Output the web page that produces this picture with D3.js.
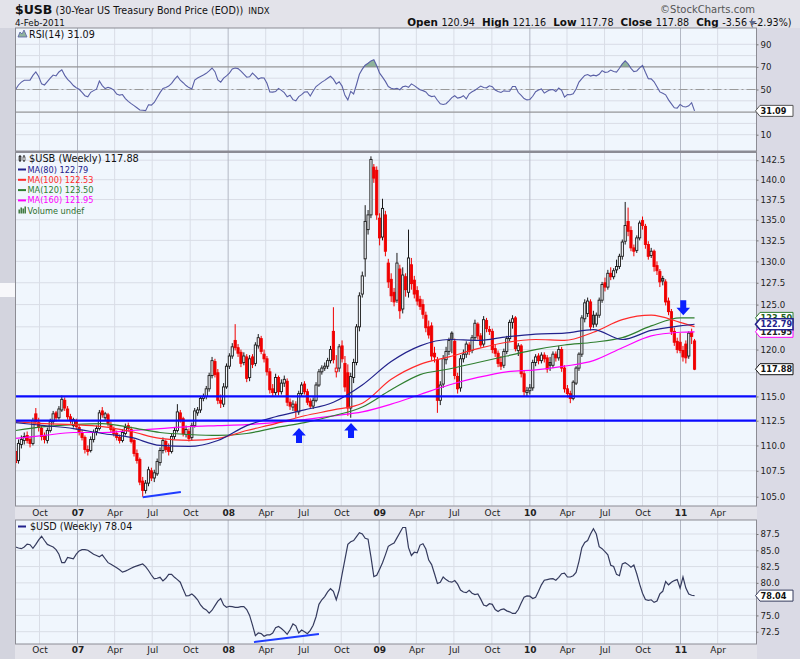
<!DOCTYPE html>
<html>
<head>
<meta charset="utf-8">
<script src="https://cdn.jsdelivr.net/npm/d3@7"></script>
<style>
  body { margin: 0; background: #e2e2ea; }
  #container { width: 800px; height: 659px; }
  text { font-family: "DejaVu Sans", Verdana, sans-serif; }
</style>
</head>
<body>
<div id="container"></div>
<script>
// weekly bars of $USB, first week ends 4-Aug-2006, last 4-Feb-2011
const opens = [
  109.4,108.5,110.1,110.5,111.0,110.6,110.2,113.2,112.3,111.7,111.0,110.5,111.5,112.4,113.3,112.8,113.6,114.6,113.7,112.9,
  112.0,112.5,111.8,111.3,110.8,109.6,109.5,110.6,111.4,111.7,113.5,112.8,113.1,112.1,111.6,111.2,110.8,110.5,111.2,112.0,
  111.6,110.5,109.2,108.6,106.5,105.6,106.3,107.5,106.8,107.2,108.3,109.5,110.4,109.8,109.4,110.9,111.5,113.3,112.7,111.1,
  111.4,110.8,112.0,113.3,113.6,114.8,115.0,115.8,117.2,118.7,117.5,114.6,114.2,116.0,118.2,119.3,121.0,120.2,119.7,118.6,
  119.2,117.0,119.2,118.5,120.4,121.2,119.5,119.0,117.6,115.8,115.4,117.0,115.5,116.4,116.6,114.4,113.9,114.2,113.4,115.3,
  116.3,115.5,114.5,114.0,114.6,116.2,117.6,118.0,118.2,118.8,122.0,117.6,118.0,120.4,118.5,117.5,113.8,117.0,118.6,122.5,
  126.2,130.3,133.8,135.6,141.6,141.2,135.2,132.9,135.6,129.8,127.9,126.4,125.5,129.1,124.5,128.2,126.4,129.6,127.8,126.6,
  125.6,125.0,123.8,122.5,122.6,119.6,118.9,114.6,116.3,118.9,119.8,121.8,120.9,117.1,115.9,119.0,119.5,120.5,119.9,121.3,
  122.8,121.5,120.6,123.2,122.2,122.0,120.1,119.6,118.6,118.3,119.8,121.2,123.0,123.5,119.9,120.4,117.4,115.4,115.6,115.9,
  118.6,119.3,118.8,119.4,119.1,118.6,118.3,119.5,119.1,120.0,118.0,115.8,115.3,114.8,116.4,118.0,119.5,123.4,124.0,125.3,
  123.8,122.8,123.8,125.5,127.5,127.0,128.6,128.2,129.0,129.4,130.6,132.4,134.8,133.7,131.6,131.3,132.8,134.9,134.2,132.0,
  130.7,131.2,129.5,128.8,128.0,127.6,125.4,124.2,122.0,120.9,120.8,119.9,120.6,119.3,121.9,120.94
];
const highs = [
  109.8,110.6,111.0,111.3,111.4,110.9,112.8,113.8,112.8,112.0,111.3,111.8,112.7,113.5,113.5,114.0,115.1,114.9,114.0,113.2,
  112.8,112.7,112.1,111.6,111.0,110.0,110.9,111.6,112.0,113.6,113.9,113.4,113.3,112.4,111.9,111.5,111.1,111.6,112.2,112.3,
  111.9,110.7,109.6,108.8,106.9,106.6,107.9,107.8,107.6,108.7,109.8,110.8,110.6,110.2,111.2,111.8,114.2,113.6,112.9,112.0,
  111.7,112.3,113.8,113.9,115.0,115.3,116.1,117.5,119.2,119.0,117.9,115.2,116.4,118.5,119.6,120.7,122.8,120.6,120.0,119.7,
  119.5,119.4,119.5,120.8,121.7,121.5,120.0,119.3,118.0,116.3,117.4,117.2,116.8,117.2,116.9,114.8,114.6,114.5,115.6,116.5,
  116.6,115.8,114.8,114.9,116.5,117.9,118.3,118.6,119.1,120.4,124.7,119.4,120.6,121.0,119.3,118.4,117.5,119.0,122.8,126.4,
  128.8,136.8,136.2,143.0,142.0,141.7,135.8,137.6,136.1,130.3,128.6,126.9,131.0,129.6,129.3,128.6,133.8,130.4,128.3,127.1,
  126.0,125.6,124.2,123.2,123.0,120.3,119.2,116.6,119.4,120.3,121.3,122.0,121.2,117.5,119.4,120.0,120.9,120.8,121.6,123.3,
  123.0,121.8,123.7,123.5,122.6,122.3,120.6,119.9,119.3,120.1,121.5,123.3,123.8,123.7,120.7,120.6,117.7,116.0,116.3,118.9,
  119.5,119.6,119.7,119.7,119.4,119.2,119.8,119.8,120.4,120.3,118.3,116.2,115.6,116.7,118.2,119.7,123.8,125.6,125.8,125.6,
  124.3,124.1,125.8,127.6,128.1,129.0,129.3,129.2,130.2,130.9,132.6,137.2,136.5,134.2,132.0,133.1,134.9,135.4,134.5,132.4,
  131.6,131.4,130.0,129.1,128.3,127.9,125.8,124.5,122.4,121.3,121.8,120.4,121.0,122.0,122.3,121.16
];
const lows = [
  107.8,108.2,109.7,110.1,110.2,109.8,110.0,112.1,111.4,110.5,110.2,110.2,111.3,112.1,112.4,112.6,113.4,113.5,112.6,112.2,
  111.8,111.6,111.0,110.5,109.2,109.0,109.3,110.3,111.0,111.5,112.8,112.5,111.9,111.3,110.9,110.5,110.2,110.3,111.0,111.4,
  110.2,108.9,108.2,106.1,105.0,105.3,106.0,106.5,106.4,107.0,108.0,109.2,109.3,109.0,109.2,110.6,111.3,112.3,110.9,110.8,
  110.4,110.5,111.8,113.0,113.3,114.5,114.7,115.5,116.9,117.0,114.2,113.8,113.9,115.8,117.9,119.0,119.9,119.2,118.1,118.3,
  116.5,116.6,118.0,118.2,120.1,119.5,118.6,117.2,115.3,115.0,115.1,115.1,115.2,116.0,114.0,113.6,113.5,112.8,113.1,115.0,
  115.2,114.1,113.7,113.7,114.4,116.0,117.3,117.7,117.9,118.5,118.5,117.0,117.6,118.6,115.5,113.0,112.8,116.4,118.3,122.0,
  125.8,128.2,133.2,135.2,139.6,135.0,131.9,132.5,130.6,126.9,125.3,124.8,125.2,123.4,124.0,125.9,125.8,126.7,125.7,124.9,
  124.4,123.4,121.9,121.2,118.8,118.6,113.3,114.1,115.9,118.4,119.4,119.6,116.8,115.3,115.5,118.6,119.1,119.4,119.6,121.0,
  121.1,120.2,120.3,121.9,121.6,119.6,119.2,118.1,117.8,118.0,119.5,120.9,122.3,119.8,119.3,117.0,115.0,115.0,115.2,115.6,
  118.2,118.4,118.5,118.6,117.5,117.7,118.0,118.7,118.8,117.6,115.4,114.9,114.3,114.6,116.2,117.7,119.2,123.0,123.6,122.1,
  122.4,122.5,123.5,125.2,126.5,126.7,127.8,127.9,128.6,129.1,130.2,132.0,133.0,131.2,130.6,131.0,132.5,133.8,131.5,130.2,
  130.4,128.8,128.4,127.0,127.2,124.9,123.8,121.6,120.4,119.6,119.6,118.7,118.5,119.0,120.6,117.78
];
const closes = [
  108.3,110.2,110.6,110.9,110.5,110.2,112.5,112.4,111.8,110.9,110.6,111.5,112.4,113.2,112.8,113.7,114.7,113.8,112.9,112.5,
  112.6,111.9,111.4,110.8,109.6,109.4,110.6,111.3,111.7,113.3,113.1,113.2,112.2,111.6,111.2,110.8,110.5,111.3,111.8,111.7,
  110.4,109.2,108.5,106.4,105.6,106.3,107.6,106.8,107.3,108.4,109.5,110.5,109.6,109.4,110.9,111.5,113.4,112.6,111.2,111.6,
  110.7,112.0,113.5,113.6,114.8,115.0,115.8,117.2,118.8,117.3,114.6,114.3,116.0,118.2,119.3,120.3,120.2,119.6,118.5,119.3,
  116.9,119.0,118.4,120.5,121.3,119.8,119.0,117.6,115.7,115.4,117.0,115.5,116.4,116.8,114.4,114.0,114.2,113.5,115.3,116.2,
  115.5,114.4,114.0,114.6,116.2,117.6,118.0,118.2,118.8,120.0,118.9,118.0,120.3,119.0,116.0,113.8,117.1,118.6,122.5,126.0,
  128.3,134.8,135.6,142.6,140.2,135.6,132.8,136.4,131.2,127.6,126.0,125.3,129.8,124.3,128.4,126.7,130.4,127.4,126.2,125.4,
  124.8,123.9,122.4,121.6,119.3,119.2,114.6,116.2,119.0,119.8,121.0,121.1,117.2,115.8,119.0,119.5,120.6,119.8,121.3,122.9,
  121.5,120.5,123.3,122.3,122.0,120.0,119.6,118.5,118.2,119.8,121.2,123.0,123.4,120.1,120.4,117.4,115.5,115.6,115.9,118.6,
  119.2,118.8,119.4,119.0,117.9,118.3,119.5,119.1,120.0,118.0,115.8,115.3,114.8,116.5,118.0,119.5,123.5,125.2,125.4,122.5,
  122.8,123.8,125.5,127.3,127.0,128.6,128.2,128.9,129.4,130.6,132.3,134.3,133.6,131.6,131.2,132.8,134.6,134.3,132.0,130.6,
  131.2,129.4,128.9,127.6,127.7,125.3,124.2,122.0,120.8,120.0,119.9,119.2,119.1,121.8,121.44,117.88
];

// RSI(14), one value per week
const rsiValues = [
  50.0,54.0,56.5,58.2,58.2,58.3,62.5,65.5,61.5,55.0,54.0,57.0,60.0,62.8,62.0,65.5,67.5,62.5,59.0,56.5,
  53.5,51.5,50.2,47.5,44.5,43.5,47.5,49.0,50.3,57.5,53.5,50.8,52.0,51.0,49.5,46.0,45.0,45.5,42.0,39.5,
  37.5,35.7,33.8,31.9,31.6,31.3,36.5,36.2,38.5,43.0,47.2,51.0,51.8,53.0,55.5,59.0,61.8,58.2,56.0,53.5,
  51.7,50.5,58.3,60.2,61.5,62.8,64.3,66.5,69.0,65.8,58.5,56.5,60.1,62.0,64.5,68.1,69.0,68.5,66.3,63.5,
  60.9,61.2,64.5,62.0,59.3,60.3,60.2,55.5,47.8,47.7,48.2,51.0,49.2,47.2,43.6,45.0,41.0,40.0,43.7,45.5,
  47.8,48.0,44.2,48.7,52.6,54.5,56.5,58.1,60.0,61.7,59.2,55.0,56.9,53.0,44.8,40.8,48.3,46.0,54.4,63.5,
  68.0,71.5,73.2,75.3,76.3,71.0,64.5,61.0,57.2,52.6,51.1,50.4,51.0,49.8,52.4,53.0,52.0,55.0,53.4,51.5,
  49.8,49.0,47.8,44.9,43.7,44.2,40.5,37.3,36.7,37.4,40.0,42.8,44.5,42.4,43.0,44.5,41.8,46.2,48.0,49.3,
  51.2,53.0,51.8,51.5,53.3,52.5,49.5,48.2,47.4,48.8,48.5,48.4,52.6,52.7,47.3,44.7,42.0,40.8,41.2,44.0,
  48.0,49.5,50.5,46.8,48.4,49.7,50.0,48.2,51.3,49.2,43.3,45.6,45.3,46.2,50.5,56.5,59.6,62.5,63.3,61.9,
  62.7,62.1,63.5,66.7,65.2,65.5,67.2,66.0,65.4,68.8,72.7,75.4,72.8,68.7,65.9,66.4,69.1,71.3,65.2,59.5,
  59.4,56.8,52.5,47.9,46.7,45.3,40.8,37.3,33.8,33.5,36.8,34.9,34.5,35.5,38.3,31.09
];

// $USD weekly close
const usdValues = [
  85.5,85.35,85.25,85.5,85.95,85.85,85.3,85.9,86.6,87.15,86.5,85.9,85.7,85.5,85.1,84.4,83.1,83.1,83.9,83.8,
  83.7,84.4,84.9,85.1,85.1,85.0,84.7,84.4,84.2,84.0,84.3,83.7,83.1,82.85,82.6,82.3,82.0,81.65,81.8,82.0,
  82.25,82.45,82.6,82.75,82.9,82.5,81.9,81.2,80.6,80.7,80.85,80.3,80.7,81.3,81.3,80.85,80.5,80.1,79.0,78.0,
  78.05,78.3,77.9,77.4,76.6,76.1,75.85,75.35,75.8,76.5,77.2,77.6,76.6,76.25,76.4,76.35,76.25,76.25,76.35,76.35,
  75.9,75.0,73.5,71.9,72.3,72.2,71.8,72.0,72.0,72.3,73.1,73.3,73.0,72.6,72.1,72.8,73.7,73.4,72.3,72.75,
  72.5,72.2,72.7,73.5,74.8,76.7,77.4,77.9,78.6,79.1,78.7,77.4,78.9,81.3,83.6,85.9,86.3,86.5,87.1,87.7,
  87.5,86.85,86.7,84.0,80.95,81.15,82.1,83.1,84.3,85.6,85.9,86.1,86.9,87.7,88.5,88.5,85.4,84.2,84.7,84.6,
  85.8,86.0,85.2,83.5,82.8,81.4,79.9,80.1,80.9,80.5,80.2,80.1,80.35,79.8,78.9,78.6,78.5,78.85,78.4,78.2,
  78.3,77.5,76.6,76.45,76.8,76.7,75.9,75.6,75.9,76.0,75.7,75.55,75.3,75.3,75.9,76.9,77.8,78.0,77.95,77.6,
  77.8,78.7,79.7,80.4,80.5,80.6,80.65,80.4,80.85,81.4,81.5,80.9,80.9,81.1,81.6,83.3,85.4,86.2,86.5,87.5,
  88.3,87.5,85.55,85.25,84.8,84.3,82.7,82.5,81.3,81.1,82.9,83.1,82.8,82.4,82.75,81.4,79.8,78.4,77.45,77.3,
  77.4,77.0,77.2,78.3,78.7,80.2,79.7,80.1,80.35,80.5,79.2,80.9,79.2,78.3,78.1,78.04
];

// moving averages read at these week numbers
const maWeeks = [0,10,20,30,40,50,60,70,80,90,100,110,120,130,140,150,160,170,180,190,200,210,220,230,235];
const ma80 = [112.3,112.0,111.7,111.2,110.8,110.0,109.9,110.5,112.0,112.9,113.6,114.4,116.2,118.7,120.4,121.1,121.0,121.4,121.7,121.8,122.2,121.1,122.1,122.6,122.79];
const ma100 = [112.4,112.2,112.1,111.9,111.4,110.7,110.5,110.7,111.5,112.2,113.0,113.6,114.3,116.8,118.4,119.2,120.1,120.8,121.1,121.0,121.9,123.3,123.8,123.0,122.53];
const ma120 = [111.5,111.9,112.1,112.2,111.8,111.3,111.1,111.0,111.2,111.8,112.3,113.0,113.9,115.7,117.3,117.9,118.6,119.3,120.0,120.5,120.8,121.3,122.6,123.5,123.50];
const ma160 = [110.7,111.0,111.3,111.3,111.5,111.7,111.9,112.0,112.1,112.3,112.6,113.0,113.4,114.2,115.2,116.2,117.0,117.6,117.8,118.2,118.8,120.2,121.5,121.9,121.95];

const priceTicks = [105,107.5,110,112.5,115,117.5,120,122.5,125,127.5,130,132.5,135,137.5,140,142.5];
const rsiTicks = [10,30,50,70,90];
const rsiGrid = [10,20,30,40,50,60,70,80,90];
const usdTicks = [72.5,75,77.5,80,82.5,85,87.5];
const supportLevels = [115, 112.5];

// annotations, [week, value]
const trendPrice = [[44, 104.95], [57.2, 105.45]];
const trendUsd = [[82.5, 70.9], [105, 72.15]];
const upArrows = [[98.1, 111.75], [116.1, 112.27]];
const downArrows = [[231.1, 123.8]];

const headerStats = [["Open","120.94"],["High","121.16"],["Low","117.78"],["Close","117.88"],["Chg","-3.56 (-2.93%)"]];

const W = 800, H = 659;
const panelLeft = 15.5, panelRight = 756.5;
const rsiTop = 28, rsiBottom = 151;
const mainTop = 152, mainBottom = 506;
const usdTop = 520, usdBottom = 644;
const gridColor = "#d9dde6", yearColor = "#b3b8c4";
const mono = "'DejaVu Sans Mono', monospace";

const firstWeek = new Date(2006, 7, 4);
const weekDate = i => new Date(firstWeek.getTime() + i * 7 * 864e5);

let x = d3.scaleTime()
  .domain([new Date(2007, 0, 1), new Date(2011, 0, 1)])
  .range([77.5, 680.5]);
let yPrice = d3.scaleLog().domain([105, 142.5]).range([496.7, 160.2]);
let yRsi = d3.scaleLinear().domain([10, 90]).range([134.7, 44.3]);
let yUsd = d3.scaleLinear().domain([72.5, 87.5]).range([631.7, 534]);

let quarters = d3.timeMonth.every(3).range(new Date(2006, 9, 1), new Date(2011, 4, 1));

const svg = d3.select("#container")
  .append("svg")
  .attr("width", W)
  .attr("height", H);

// backdrop
svg.append("rect").attr("width", W).attr("height", H).attr("fill", "#e3e3ea");
svg.append("rect").attr("x", 757).attr("y", 28).attr("width", 43).attr("height", 631).attr("fill", "#dadae5");
svg.append("rect").attr("x", 0).attr("y", 28).attr("width", 15).attr("height", 631).attr("fill", "#d3d4de");
svg.append("rect").attr("x", 0).attr("y", 283).attr("width", 15).attr("height", 14).attr("fill", "#f7f7fa");

let makePanel = (top, bottom, yScale, grid, id) => {
  let g = svg.append("g");
  g.append("rect")
    .attr("x", panelLeft).attr("y", top)
    .attr("width", panelRight - panelLeft).attr("height", bottom - top)
    .attr("fill", "#f0f6fd");
  g.selectAll(".hgrid").data(grid).enter().append("line")
    .attr("x1", panelLeft).attr("x2", panelRight)
    .attr("y1", d => yScale(d)).attr("y2", d => yScale(d))
    .attr("stroke", gridColor).attr("stroke-width", 1);
  g.selectAll(".vgrid").data(quarters).enter().append("line")
    .attr("x1", d => x(d)).attr("x2", d => x(d))
    .attr("y1", top).attr("y2", bottom)
    .attr("stroke", d => d.getMonth() === 0 ? yearColor : gridColor)
    .attr("stroke-width", 1);
  svg.append("clipPath").attr("id", id)
    .append("rect")
    .attr("x", panelLeft).attr("y", top)
    .attr("width", panelRight - panelLeft).attr("height", bottom - top);
  return g;
}

let drawBorder = (top, bottom) => {
  svg.append("rect")
    .attr("x", panelLeft).attr("y", top)
    .attr("width", panelRight - panelLeft).attr("height", bottom - top)
    .attr("fill", "none").attr("stroke", "#8c8c94").attr("stroke-width", 1);
}

// labels sitting under a value tag are hidden, as on the original
let rightAxis = (yScale, ticks, fmt, tagYs) => {
  let shown = ticks.filter(t => tagYs.every(ty => Math.abs(yScale(t) - ty) > 7));
  let g = svg.append("g")
    .attr("transform", `translate(${panelRight},0)`)
    .call(d3.axisRight(yScale).tickValues(shown).tickSize(2).tickPadding(2).tickFormat(fmt));
  g.select(".domain").remove();
  g.selectAll("line").attr("stroke", "#777");
  g.selectAll("text").attr("font-size", 8.6).attr("fill", "#222")
    .attr("font-family", "'DejaVu Sans', Verdana, sans-serif");
}

let dateAxis = (yPos) => {
  let g = svg.append("g")
    .attr("transform", `translate(0,${yPos})`)
    .call(d3.axisBottom(x).tickValues(quarters).tickSize(0).tickPadding(0)
      .tickFormat(d => d.getMonth() === 0 ? d3.timeFormat("%y")(d) : d3.timeFormat("%b")(d)));
  g.select(".domain").remove();
  g.selectAll("text")
    .attr("font-size", 9)
    .attr("fill", "#222")
    .attr("font-weight", d => d.getMonth() === 0 ? "bold" : "normal")
    .attr("font-family", "'DejaVu Sans', Verdana, sans-serif");
}

let valueTag = (yPos, label, color, textColor, sw) => {
  let g = svg.append("g").attr("transform", `translate(755.5,${yPos})`);
  g.append("path")
    .attr("d", "M0,0 L4.5,-5.5 L37.5,-5.5 L37.5,5.5 L4.5,5.5 Z")
    .attr("fill", "#fff").attr("stroke", color).attr("stroke-width", sw);
  g.append("text")
    .attr("x", 5).attr("y", 3.2)
    .attr("font-size", 8.2).attr("font-weight", "bold")
    .attr("fill", textColor)
    .text(label);
}

// ---------- header ----------
let title = svg.append("text").attr("x", 15).attr("y", 14).attr("fill", "#111");
title.append("tspan").attr("font-size", 12.5).attr("font-weight", "bold").text("$USB");
title.append("tspan").attr("dx", 3).attr("font-size", 9.6).text("(30-Year US Treasury Bond Price (EOD))");
title.append("tspan").attr("dx", 5).attr("font-size", 8.5).text("INDX");

svg.append("text").attr("x", 15).attr("y", 25.5).attr("font-size", 8.8).attr("fill", "#111").text("4-Feb-2011");

svg.append("text").attr("x", 755).attr("y", 12.5).attr("text-anchor", "end")
  .attr("font-size", 10).attr("fill", "#555").text("\u00A9StockCharts.com");

let stats = svg.append("text").attr("y", 25.5).attr("fill", "#111");
headerStats.forEach((s, k) => {
  stats.append("tspan").attr("dx", k === 0 ? 0 : 7).attr("font-size", 10.4).attr("font-weight", "bold").text(s[0]);
  stats.append("tspan").attr("dx", 3.5).attr("font-size", 9.6).text(s[1]);
});
let statsWidth = stats.node().getComputedTextLength();
stats.attr("x", 746 - statsWidth);
svg.append("path").attr("d", "M749,21 L756,21 L752.5,25.5 Z").attr("fill", "#5b6b92");

// ---------- RSI panel ----------
makePanel(rsiTop, rsiBottom, yRsi, rsiGrid, "clip-rsi");
let rsiG = svg.append("g").attr("clip-path", "url(#clip-rsi)");
rsiG.append("path")
  .datum(rsiValues)
  .attr("d", d3.area()
    .x((d, i) => x(weekDate(i)))
    .y0(yRsi(70))
    .y1(d => yRsi(Math.max(d, 70))))
  .attr("fill", "#8fb39c");
rsiG.append("path")
  .datum(rsiValues)
  .attr("d", d3.area()
    .x((d, i) => x(weekDate(i)))
    .y0(yRsi(30))
    .y1(d => yRsi(Math.min(d, 30))))
  .attr("fill", "#8fb39c");
[30, 70].forEach(v => {
  rsiG.append("line").attr("x1", panelLeft).attr("x2", panelRight)
    .attr("y1", yRsi(v)).attr("y2", yRsi(v)).attr("stroke", "#8a8a8a").attr("stroke-width", 1);
});
rsiG.append("line").attr("x1", panelLeft).attr("x2", panelRight)
  .attr("y1", yRsi(50)).attr("y2", yRsi(50))
  .attr("stroke", "#9a9a9a").attr("stroke-width", 1).attr("stroke-dasharray", "9,3,2,3");
rsiG.append("path")
  .datum(rsiValues)
  .attr("d", d3.line().x((d, i) => x(weekDate(i))).y(d => yRsi(d)))
  .attr("fill", "none").attr("stroke", "#5a60a6").attr("stroke-width", 1.1);
drawBorder(rsiTop, rsiBottom);
let rsiLast = rsiValues[rsiValues.length - 1];
rightAxis(yRsi, rsiTicks, d3.format("d"), [yRsi(rsiLast)]);
valueTag(yRsi(rsiLast), rsiLast.toFixed(2), "#555", "#111", 1);

// legend
svg.append("path").attr("d", "M18,37 L20,32 L22,34 L24,30 L27,37 Z").attr("fill", "#8fb39c").attr("stroke", "#5a60a6").attr("stroke-width", 0.8);
svg.append("text").attr("x", 29).attr("y", 37.5).attr("font-family", mono).attr("font-size", 9.6).attr("fill", "#111").text("RSI(14) " + rsiLast.toFixed(2));

// ---------- price panel ----------
makePanel(mainTop, mainBottom, yPrice, priceTicks, "clip-main");
let mainG = svg.append("g").attr("clip-path", "url(#clip-main)");

let bars = closes.map((c, i) => ({
  date: weekDate(i),
  open: opens[i],
  close: c,
  high: Math.max(highs[i], opens[i], c),
  low: Math.min(lows[i], opens[i], c),
  up: i === 0 ? c >= opens[i] : c >= closes[i - 1]
}));

let lineColor = d => d.up ? "#1a1a1a" : "#f00000";
mainG.selectAll(".wick").data(bars).enter().append("line")
  .attr("x1", d => x(d.date)).attr("x2", d => x(d.date))
  .attr("y1", d => yPrice(d.high)).attr("y2", d => yPrice(d.low))
  .attr("stroke", lineColor).attr("stroke-width", 1);
mainG.selectAll(".body").data(bars).enter().append("rect")
  .attr("x", d => x(d.date) - 1.1)
  .attr("width", 2.2)
  .attr("y", d => yPrice(Math.max(d.open, d.close)))
  .attr("height", d => Math.max(0.8, yPrice(Math.min(d.open, d.close)) - yPrice(Math.max(d.open, d.close))))
  .attr("fill", d => d.close >= d.open ? "#f4f8fd" : (d.up ? "#7a7a7a" : "#f00000"))
  .attr("stroke", lineColor)
  .attr("stroke-width", 0.9);

let maLine = d3.line()
  .x((d, k) => x(weekDate(maWeeks[k])))
  .y(d => yPrice(d))
  .curve(d3.curveMonotoneX);
[[ma160, "#ff00ff"], [ma120, "#2f7f2f"], [ma100, "#ff2a2a"], [ma80, "#22228c"]].forEach(m => {
  mainG.append("path").datum(m[0]).attr("d", maLine)
    .attr("fill", "none").attr("stroke", m[1]).attr("stroke-width", 1.2);
});

mainG.selectAll(".support").data(supportLevels).enter().append("line")
  .attr("x1", panelLeft).attr("x2", panelRight)
  .attr("y1", d => yPrice(d)).attr("y2", d => yPrice(d))
  .attr("stroke", "#0a0aff").attr("stroke-width", 2.2);

mainG.append("path").datum(trendPrice)
  .attr("d", d3.line().x(d => x(weekDate(d[0]))).y(d => yPrice(d[1])))
  .attr("stroke", "#1f3cff").attr("stroke-width", 2).attr("fill", "none");

mainG.selectAll(".uparrow").data(upArrows).enter().append("path")
  .attr("transform", d => `translate(${x(weekDate(d[0]))},${yPrice(d[1])})`)
  .attr("d", "M0,0 L6.8,7.5 L3,7.5 L3,15 L-3,15 L-3,7.5 L-6.8,7.5 Z")
  .attr("fill", "#0a1fff");
mainG.selectAll(".downarrow").data(downArrows).enter().append("path")
  .attr("transform", d => `translate(${x(weekDate(d[0]))},${yPrice(d[1])})`)
  .attr("d", "M0,0 L6.8,-7.5 L3,-7.5 L3,-15 L-3,-15 L-3,-7.5 L-6.8,-7.5 Z")
  .attr("fill", "#0a1fff");

drawBorder(mainTop, mainBottom);
svg.append("line").attr("x1", panelLeft).attr("x2", panelRight).attr("y1", mainTop).attr("y2", mainTop)
  .attr("stroke", "#8c8c94").attr("stroke-width", 2);

let last = closes.length - 1;
let lastMa = [ma120, ma160, ma80].map(m => m[m.length - 1]);
rightAxis(yPrice, priceTicks, d3.format(".1f"), lastMa.concat([closes[last]]).map(v => yPrice(v)));
valueTag(yPrice(lastMa[0]), lastMa[0].toFixed(2), "#2f7f2f", "#1f5f1f", 1);
valueTag(yPrice(lastMa[1]), lastMa[1].toFixed(2), "#ff00ff", "#222", 1);
valueTag(yPrice(lastMa[2]), lastMa[2].toFixed(2), "#22228c", "#22228c", 1.6);
valueTag(yPrice(closes[last]), closes[last].toFixed(2), "#111", "#111", 1);

// legend
let legendRows = [
  ["MA(80) " + ma80[ma80.length - 1].toFixed(2), "#22228c"],
  ["MA(100) " + ma100[ma100.length - 1].toFixed(2), "#ff2a2a"],
  ["MA(120) " + ma120[ma120.length - 1].toFixed(2), "#2f7f2f"],
  ["MA(160) " + ma160[ma160.length - 1].toFixed(2), "#ff00ff"]
];
svg.append("line").attr("x1", 20).attr("x2", 20).attr("y1", 155).attr("y2", 162).attr("stroke", "#111");
svg.append("rect").attr("x", 19).attr("y", 156.5).attr("width", 2).attr("height", 4).attr("fill", "#777").attr("stroke", "#111").attr("stroke-width", 0.6);
svg.append("line").attr("x1", 24).attr("x2", 24).attr("y1", 155).attr("y2", 162).attr("stroke", "#111");
svg.append("rect").attr("x", 23).attr("y", 157).attr("width", 2).attr("height", 3.5).attr("fill", "#fff").attr("stroke", "#111").attr("stroke-width", 0.6);
svg.append("text").attr("x", 29).attr("y", 162).attr("font-family", mono).attr("font-size", 9.8)
  .attr("fill", "#111").text("$USB (Weekly) " + closes[last].toFixed(2));
legendRows.forEach((r, k) => {
  let yy = 172.5 + k * 10.3;
  svg.append("line").attr("x1", 18).attr("x2", 26).attr("y1", yy - 3).attr("y2", yy - 3)
    .attr("stroke", r[1]).attr("stroke-width", 2);
  svg.append("text").attr("x", 27.5).attr("y", yy).attr("font-size", 8.2).attr("fill", r[1]).text(r[0]);
});
[[18.5, 4], [20.5, 6], [22.5, 5], [24.5, 7]].forEach(b => {
  svg.append("rect").attr("x", b[0]).attr("y", 213.5 - b[1]).attr("width", 1.4).attr("height", b[1]).attr("fill", "#2f6f2f");
});
svg.append("text").attr("x", 27.5).attr("y", 213.5).attr("font-size", 8.2).attr("fill", "#2f6f2f").text("Volume undef");

dateAxis(509.5);

// ---------- USD panel ----------
makePanel(usdTop, usdBottom, yUsd, usdTicks, "clip-usd");
let usdG = svg.append("g").attr("clip-path", "url(#clip-usd)");
usdG.append("path")
  .datum(usdValues)
  .attr("d", d3.line().x((d, i) => x(weekDate(i))).y(d => yUsd(d)))
  .attr("fill", "none").attr("stroke", "#353b5e").attr("stroke-width", 1.2);
usdG.append("path").datum(trendUsd)
  .attr("d", d3.line().x(d => x(weekDate(d[0]))).y(d => yUsd(d[1])))
  .attr("stroke", "#1f3cff").attr("stroke-width", 2).attr("fill", "none");
drawBorder(usdTop, usdBottom);
let usdLast = usdValues[usdValues.length - 1];
rightAxis(yUsd, usdTicks, d3.format(".1f"), [yUsd(usdLast)]);
valueTag(yUsd(usdLast), usdLast.toFixed(2), "#353b5e", "#111", 1);

svg.append("line").attr("x1", 18).attr("x2", 26).attr("y1", 526.5).attr("y2", 526.5).attr("stroke", "#22228c").attr("stroke-width", 2);
svg.append("text").attr("x", 30).attr("y", 530).attr("font-family", mono).attr("font-size", 9.6)
  .attr("fill", "#111").text("$USD (Weekly) " + usdLast.toFixed(2));

dateAxis(646.5);
</script>
</body>
</html>
